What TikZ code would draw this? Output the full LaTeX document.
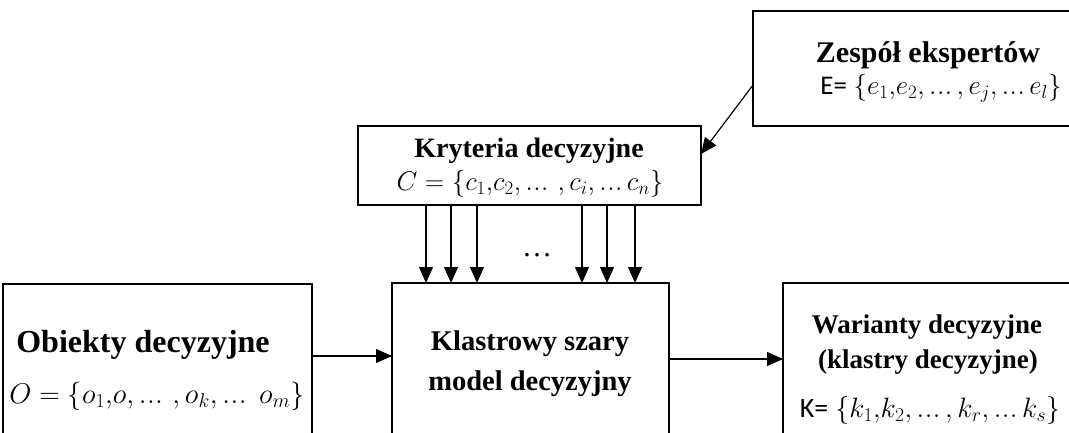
\RequirePackage{fix-cm}
\documentclass[tikz,border=0pt]{standalone}
\usepackage{fontspec}
\setmainfont{Liberation Serif}
\newfontfamily\calfont{Carlito}
\usetikzlibrary{arrows.meta}
\newcommand{\tdots}{\mathinner{.\kern0.5pt.\kern0.5pt.}}
\tikzset{
  box/.style={draw, line width=2.6pt, anchor=north west, inner sep=0pt, outer sep=0pt},
  arr/.style={line width=1.2pt, -{Triangle[length=16pt,width=14pt]}},
  ttl/.style={anchor=base, inner sep=0pt, font=\bfseries},
  mth/.style={anchor=base, inner sep=0pt},
}
\begin{document}
\begin{tikzpicture}[x=1pt,y=-1pt]
\clip (0,0) rectangle (1069,432);
\fill[white] (0,0) rectangle (1069,432);
% boxes
\node[box, minimum width=360pt, minimum height=115pt] (zesp) at (753,11) {};
\node[box, minimum width=343pt, minimum height=79pt] (krit) at (358,126) {};
\node[box, minimum width=309pt, minimum height=200pt] (obj) at (3,284) {};
\node[box, minimum width=277pt, minimum height=200pt] (klas) at (392,283) {};
\node[box, minimum width=330pt, minimum height=200pt] (war) at (783,283) {};
% texts
\node[ttl] (zt) at (928,62) {\fontsize{30}{36}\selectfont Zespół ekspertów};
\node[mth] (zm) at (941,94) {\fontsize{27}{32}\selectfont{\calfont E=} $\{e_1{,}e_2, \tdots, e_j, \tdots e_l\}$};
\node[ttl] (kt) at (529,157) {\fontsize{28}{34}\selectfont Kryteria decyzyjne};
\node[mth] (km) at (530,190) {\fontsize{27}{32}\selectfont $C=\{c_1{,}c_2, \tdots\,, c_i, \tdots c_n\}$};
\node[ttl] (ot) at (143,352) {\fontsize{32}{38}\selectfont Obiekty decyzyjne};
\node[mth] (om) at (157,403) {\fontsize{28.5}{34}\selectfont $O=\{o_1{,}o, \tdots\,, o_k, \tdots\; o_m\}$};
\node[ttl] (lt1) at (530,350) {\fontsize{28.5}{34}\selectfont Klastrowy szary};
\node[ttl] (lt2) at (530,390) {\fontsize{28.5}{34}\selectfont model decyzyjny};
\node[ttl] (wt1) at (927,333) {\fontsize{27}{32}\selectfont Warianty decyzyjne};
\node[ttl] (wt2) at (928,368) {\fontsize{27}{32}\selectfont (klastry decyzyjne)};
\node[mth] (wm) at (930,417) {\fontsize{28}{34}\selectfont{\calfont K=} $\{k_1{,}k_2, \tdots, k_r, \tdots k_s\}$};
\node[mth] (dots) at (537,256) {\fontsize{30}{34}\selectfont …};
% helper coordinates
\coordinate (h1) at (0,356);
\coordinate (h2) at (0,359);
\foreach \i/\x in {1/426,2/451,3/477,4/582,5/607,6/635} {\coordinate (v\i) at (\x,0);}
\coordinate (d1) at (0,85);
\coordinate (d2) at (0,154);
% connectors
\draw[arr] (obj.east |- h1) -- (klas.west |- h1);
\draw[arr] (klas.east |- h2) -- (war.west |- h2);
\foreach \i in {1,...,6} {\draw[arr] (krit.south -| v\i) -- (klas.north -| v\i);}
\draw[arr] (zesp.west |- d1) -- (krit.east |- d2);
\end{tikzpicture}
\end{document}
